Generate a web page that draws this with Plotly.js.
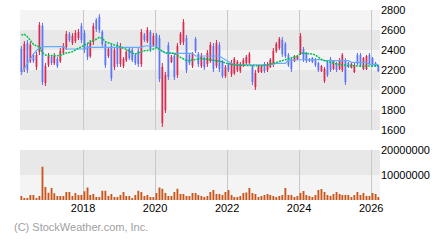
<!DOCTYPE html>
<html><head><meta charset="utf-8">
<script src="https://cdn.plot.ly/plotly-3.0.1.min.js"></script>
<style>html,body{margin:0;padding:0;background:#fff}#chart{width:440px;height:240px}</style>
</head><body><div id="chart"></div>
<script>
// Monthly candles, April 2016 .. March 2026
var startYear = 2016, startMonth = 4, nMonths = 120;
var months = [];
for (var k = 0; k < nMonths; k++) {
  var mm = startMonth - 1 + k;
  var yy = startYear + Math.floor(mm / 12);
  var m = (mm % 12) + 1;
  months.push(yy + '-' + (m < 10 ? '0' + m : m) + '-15');
}
var openP = [2410,2210,2470,2290,2350,2230,2380,2640,2070,2250,2330,2270,2310,2290,2370,2430,2560,2470,2490,2520,
  2640,2570,2440,2340,2480,2700,2730,2580,2460,2340,2440,2230,2450,2260,2240,2300,2410,2400,2350,2390,
  2260,2550,2490,2580,2450,2550,2520,1670,1800,2450,2280,2340,2150,2470,2480,2520,2350,2240,2510,2360,
  2240,2310,2260,2290,2440,2240,2450,2280,2140,2250,2160,2170,2200,2190,2250,2270,2270,2230,2030,2180,
  2180,2260,2200,2230,2260,2390,2420,2500,2460,2350,2310,2290,2310,2370,2410,2370,2310,2320,2300,2270,
  2190,2090,2280,2310,2210,2270,2210,2200,2300,2270,2220,2180,2350,2350,2210,2210,2350,2320,2270,2240];
var highP = [2440,2490,2500,2480,2370,2380,2680,2670,2270,2370,2350,2370,2330,2420,2470,2590,2580,2570,2600,2610,
  2670,2600,2470,2500,2670,2720,2760,2600,2480,2430,2470,2430,2480,2470,2330,2400,2430,2420,2370,2420,
  2610,2570,2630,2600,2570,2570,2550,2270,2180,2480,2350,2370,2470,2580,2710,2550,2370,2380,2530,2380,
  2370,2330,2400,2480,2470,2500,2480,2300,2250,2270,2300,2330,2300,2280,2320,2350,2380,2250,2200,2250,
  2250,2280,2280,2320,2420,2480,2530,2530,2480,2370,2330,2350,2350,2570,2430,2380,2320,2330,2320,2280,
  2250,2230,2300,2330,2300,2280,2320,2370,2320,2280,2270,2270,2370,2370,2330,2350,2370,2330,2280,2250];
var lowP = [2150,2180,2170,2270,2270,2200,2350,2050,2040,2230,2250,2250,2220,2270,2350,2400,2480,2450,2470,2500,
  2470,2370,2300,2320,2450,2580,2570,2430,2220,2320,2090,2200,2230,2230,2220,2280,2300,2280,2250,2230,
  2230,2480,2470,2380,2430,2420,2080,1630,1770,2100,2270,2100,2120,2450,2450,2170,2250,2220,2370,2230,
  2220,2200,2230,2270,2180,2220,2180,2120,2120,2180,2130,2150,2180,2170,2230,2250,2250,2050,2000,2170,
  2170,2170,2180,2220,2230,2370,2400,2330,2320,2230,2180,2280,2300,2350,2280,2270,2280,2270,2230,2180,
  2180,2070,2130,2180,2200,2180,2200,2180,2050,2220,2220,2170,2250,2230,2200,2200,2250,2230,2230,2180];
var closeP = [2180,2460,2200,2450,2290,2350,2650,2080,2240,2340,2270,2340,2240,2390,2440,2560,2500,2540,2570,2580,
  2500,2400,2330,2470,2640,2610,2600,2460,2250,2410,2120,2400,2260,2440,2310,2380,2320,2300,2270,2260,
  2580,2500,2600,2410,2540,2440,2110,2230,2150,2130,2330,2130,2440,2560,2680,2200,2270,2360,2390,2260,
  2340,2230,2370,2450,2210,2470,2210,2140,2230,2200,2270,2310,2280,2260,2300,2330,2360,2080,2170,2230,
  2230,2190,2260,2300,2390,2460,2510,2360,2340,2250,2210,2340,2340,2540,2300,2290,2290,2280,2250,2200,
  2240,2210,2150,2200,2290,2200,2300,2350,2080,2230,2260,2250,2260,2250,2320,2340,2260,2250,2240,2190];
var maShort = [2550,2557,2533,2500,2457,2440,2433,2373,2350,2345,2343,2343,2343,2345,2360,2370,2375,2383,2400,2415,
  2433,2450,2465,2483,2495,2507,2527,2517,2483,2470,2460,2450,2443,2433,2420,2407,2390,2367,2360,2370,
  2383,2393,2395,2400,2410,2423,2407,2390,2373,2370,2368,2367,2345,2327,2310,2293,2295,2298,2300,2310,
  2317,2312,2307,2305,2300,2295,2290,2283,2270,2260,2255,2250,2248,2247,2247,2247,2247,2243,2240,2241,
  2242,2245,2250,2258,2267,2275,2285,2293,2303,2313,2320,2330,2340,2367,2367,2367,2367,2360,2350,2330,
  2305,2295,2285,2275,2267,2260,2255,2250,2245,2243,2242,2240,2240,2240,2240,2240,2240,2240,2242,2242];
var maLong = [2170,2220,2270,2320,2360,2395,2420,2433,2433,2433,2433,2433,2433,2433,2433,2410,2410,2410,2410,2410,
  2410,2410,2427,2427,2427,2427,2427,2427,2427,2427,2427,2427,2427,2427,2427,2427,2427,2427,2427,2427,
  2427,2440,2440,2440,2440,2440,2400,2383,2370,2367,2367,2367,2367,2367,2367,2367,2367,2367,2340,2340,
  2340,2340,2340,2340,2340,2340,2340,2320,2300,2283,2265,2250,2250,2250,2250,2250,2250,2250,2250,2250,
  2250,2255,2255,2255,2255,2267,2267,2267,2267,2300,2300,2300,2300,2300,2305,2305,2305,2305,2305,2305,
  2305,2293,2293,2293,2293,2293,2293,2293,2293,2293,2277,2277,2277,2277,2277,2277,2255,2255,2255,2255];
var volume = [1.6e6,0.8e6,0.8e6,2.0e6,2.0e6,0.8e6,1.6e6,13.3e6,5.2e6,2.9e6,4.8e6,2.7e6,1.6e6,1.6e6,1.6e6,3.2e6,3.2e6,1.6e6,2.8e6,2.0e6,
  2.0e6,3.5e6,5.0e6,2.0e6,2.4e6,1.2e6,1.2e6,3.7e6,3.7e6,1.6e6,2.4e6,1.2e6,1.2e6,2.0e6,3.2e6,1.6e6,1.6e6,0.8e6,2.0e6,3.7e6,
  3.2e6,1.6e6,2.0e6,1.2e6,1.2e6,2.8e6,5.0e6,4.5e6,2.8e6,1.6e6,1.6e6,3.2e6,4.5e6,2.4e6,2.4e6,1.6e6,1.6e6,2.8e6,2.8e6,2.0e6,
  1.6e6,1.2e6,1.6e6,3.2e6,4.0e6,2.4e6,2.4e6,2.0e6,3.2e6,4.0e6,2.0e6,1.2e6,1.2e6,1.6e6,2.8e6,3.0e6,4.8e6,2.8e6,2.4e6,1.2e6,
  1.6e6,2.0e6,2.4e6,2.0e6,1.6e6,1.2e6,1.6e6,2.0e6,4.8e6,2.0e6,2.0e6,1.2e6,1.6e6,2.8e6,3.6e6,2.0e6,1.6e6,1.2e6,2.0e6,4.0e6,
  4.4e6,3.2e6,2.0e6,1.6e6,2.4e6,3.2e6,2.4e6,2.0e6,2.0e6,2.0e6,1.2e6,2.0e6,3.2e6,2.0e6,2.8e6,1.6e6,1.6e6,2.8e6,2.4e6,1.2e6];
var priceTicks = [1600,1800,2000,2200,2400,2600,2800];
var volTicks = [10000000, 20000000];
var volTickText = ['10000000', '20000000'];

var FONT = 'Liberation Sans, Arial, sans-serif';
var light = '#f4f4f4', dark = '#e8e8e8';
var shapes = [];
var priceBands = [[2600,2800,light],[2400,2600,dark],[2200,2400,light],[2000,2200,dark],[1800,2000,light],[1600,1800,dark]];
priceBands.forEach(function(b){
  shapes.push({type:'rect', xref:'paper', yref:'y', x0:0, x1:1, y0:b[0], y1:b[1], fillcolor:b[2], line:{width:0}, layer:'below'});
});
var volBands = [[10000000,20000000,dark],[0,10000000,light]];
volBands.forEach(function(b){
  shapes.push({type:'rect', xref:'paper', yref:'y2', x0:0, x1:1, y0:b[0], y1:b[1], fillcolor:b[2], line:{width:0}, layer:'below'});
});

var traces = [
  {type:'candlestick', x:months, open:openP, high:highP, low:lowP, close:closeP, xaxis:'x', yaxis:'y',
   increasing:{line:{color:'#d8284c', width:1}, fillcolor:'#d8284c'},
   decreasing:{line:{color:'#5a72f8', width:1}, fillcolor:'#5a72f8'},
   whiskerwidth:0, hoverinfo:'skip'},
  {type:'scatter', mode:'lines', x:months, y:maLong, xaxis:'x', yaxis:'y', line:{color:'#62acff', width:1.2}, hoverinfo:'skip'},
  {type:'scatter', mode:'lines', x:months, y:maShort, xaxis:'x', yaxis:'y', line:{color:'#00c050', width:1.5, dash:'2px,1px'}, hoverinfo:'skip'},
  {type:'bar', x:months, y:volume, xaxis:'x2', yaxis:'y2', marker:{color:'#c9561a', line:{width:0}}, hoverinfo:'skip'}
];

var xr = ['2016-04-01', '2026-04-01'];
var layout = {
  width:440, height:240, margin:{l:20, r:60, t:10, b:40},
  paper_bgcolor:'#ffffff', plot_bgcolor:'#ffffff',
  showlegend:false, bargap:0.33, boxgap:0.6,
  font:{family:FONT, size:11, color:'#000'},
  xaxis:{type:'date', range:xr, anchor:'y', domain:[0,1], showticklabels:false, showgrid:true, gridcolor:'#c8c8c8', gridwidth:1,
    dtick:'M24', tick0:'2016-01-01', zeroline:false, showline:false, ticks:'', rangeslider:{visible:false}, fixedrange:true},
  xaxis2:{type:'date', range:xr, anchor:'y2', domain:[0,1], matches:'x', showgrid:true, gridcolor:'#c8c8c8', gridwidth:1,
    dtick:'M24', tick0:'2016-01-01', tickformat:'%Y', zeroline:false, showline:false, ticks:'', rangeslider:{visible:false},
    tickfont:{family:FONT, size:11, color:'#000'}},
  yaxis:{domain:[0.3684, 1], range:[1600, 2800], side:'right', anchor:'x', tickvals:priceTicks, showgrid:false, zeroline:false, ticks:'',
    tickfont:{family:FONT, size:11, color:'#000'}},
  yaxis2:{domain:[0, 0.2632], range:[0, 20000000], side:'right', anchor:'x2', tickvals:volTicks, ticktext:volTickText, showgrid:false, zeroline:false, ticks:'',
    tickfont:{family:FONT, size:11, color:'#000'}},
  shapes:shapes,
  annotations:[{xref:'paper', yref:'paper', x:-0.022, y:-0.142, xanchor:'left', yanchor:'middle', showarrow:false,
    text:'(C) StockWeather.com, Inc.', font:{family:FONT, size:11, color:'#a0a0a0'}}]
};
Plotly.newPlot('chart', traces, layout, {staticPlot:true, displayModeBar:false});
</script></body></html>
